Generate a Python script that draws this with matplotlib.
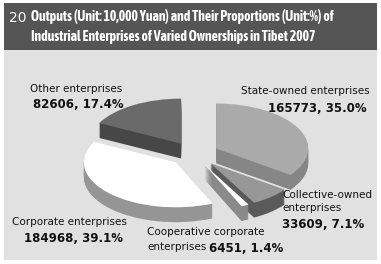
import matplotlib
matplotlib.use("Agg")
import matplotlib.pyplot as plt
from matplotlib.patches import Rectangle
from matplotlib import font_manager

# slices, clockwise from 12 o'clock
names = ["State-owned enterprises", "Collective-owned\nenterprises",
         "Cooperative corporate\nenterprises", "Corporate enterprises",
         "Other enterprises"]
values = [165773, 33609, 6451, 184968, 82606]
percents = [35.0, 7.1, 1.4, 39.1, 17.4]
top_colors = ["#aaaaaa", "#979797", "#ffffff", "#ffffff", "#6a6a6a"]
side_colors = ["#868686", "#5a5a5a", "#8a8a8a", "#959595", "#474747"]

W, H = 381, 264
fig = plt.figure(figsize=(W / 100, H / 100), dpi=100)
fig.patch.set_facecolor("white")


def fx(px):
    return px / W


def fy(py):
    return 1 - py / H


# background panel and title bar
fig.patches.append(Rectangle((fx(4), fy(260)), fx(377) - fx(4), fy(50) - fy(260),
                             facecolor="#e1e1e1", edgecolor="none",
                             transform=fig.transFigure, zorder=-2))
fig.patches.append(Rectangle((fx(4), fy(50)), fx(377) - fx(4), fy(3) - fy(50),
                             facecolor="#555555", edgecolor="none",
                             transform=fig.transFigure, zorder=-2))


def is_bold(f):
    wt = f.weight
    if isinstance(wt, str):
        return wt in ("bold", "heavy", "black", "extra bold", "semibold", "demibold")
    return wt >= 600


# look for an upright, narrow bold face for the title
narrow = [f.name for f in font_manager.fontManager.ttflist
          if ("Narrow" in f.name or "Condensed" in f.name
              or f.stretch in ("condensed", "semi-condensed", "extra-condensed"))
          and is_bold(f) and f.style == "normal"]
title_font = sorted(set(narrow)) + ["DejaVu Sans"]

fig.text(fx(9), fy(18), "20", color="white", fontsize=10, va="center", ha="left")
t1 = fig.text(fx(31), fy(17), "Outputs (Unit: 10,000 Yuan) and Their Proportions (Unit:%) of",
              color="white", fontsize=10, fontweight="bold", family=title_font,
              fontstyle="normal", fontstretch="condensed", va="center", ha="left")
t2 = fig.text(fx(31), fy(37), "Industrial Enterprises of Varied Ownerships in Tibet 2007",
              color="white", fontsize=10, fontweight="bold", family=title_font,
              fontstyle="normal", fontstretch="condensed", va="center", ha="left")
# shrink the title so the first line spans about 315 px, as in the original
r = fig.canvas.get_renderer()
w = t1.get_window_extent(r).width
scale = min(1.0, 315 / w)
t1.set_fontsize(10 * scale)
t2.set_fontsize(10 * scale)

# pseudo 3D pie: stacked darker layers for the sides, then the top face
ax = fig.add_axes([0, 0, 1, 1], zorder=1)
ax.patch.set_visible(False)
explode = [0.27] * len(values)
depth = 0.33
steps = 16
for i in range(steps, 0, -1):
    ax.pie(values, explode=explode, startangle=90, counterclock=False,
           colors=side_colors, center=(0, -depth * i / steps),
           wedgeprops=dict(linewidth=0))
ax.pie(values, explode=explode, startangle=90, counterclock=False,
       colors=top_colors, center=(0, 0), wedgeprops=dict(linewidth=0))
ax.set_aspect("auto")
ax.set_xlim(-194 / 92, (W - 194) / 92)
ax.set_ylim(-(H - 154) / 45, 154 / 45)
ax.axis("off")

# label lines: name line positions, then value position, in pixels
name_pos = [
    [(241, 91)],
    [(282, 195), (282, 208)],
    [(147, 232), (147, 247)],
    [(12, 222)],
    [(30, 89)],
]
value_pos = [(268, 108), (282, 224), (209, 248), (24, 239), (33, 105)]
for name, v, p, lines, (vx, vy) in zip(names, values, percents, name_pos, value_pos):
    for line, (nx, ny) in zip(name.split("\n"), lines):
        fig.text(fx(nx), fy(ny), line, fontsize=7.5, color="#111111",
                 va="center", ha="left")
    fig.text(fx(vx), fy(vy), f"{v}, {p:.1f}%", fontsize=8.5, fontweight="bold",
             color="#111111", va="center", ha="left")

fig.savefig("out.png", dpi=100)
